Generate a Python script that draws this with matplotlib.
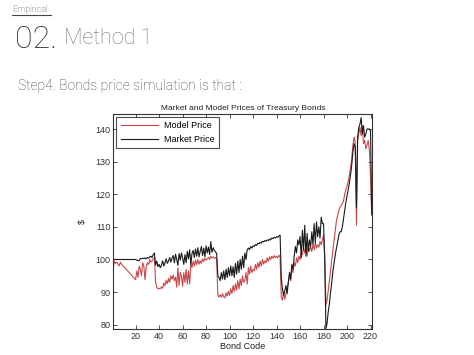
import numpy as np
import matplotlib
matplotlib.use("Agg")
import matplotlib.pyplot as plt


# Market price, bond codes 1..221
market_price = [
    100.0, 100.0, 100.0, 100.0, 100.0, 100.0, 100.0, 100.0, 100.0, 100.0,
    100.0, 100.0, 100.0, 100.0, 100.0, 100.0, 100.0, 100.0, 100.0, 100.0,
    99.8, 99.7, 99.6, 100.3, 100.2, 100.4, 100.3, 100.5, 100.2, 100.6,
    100.4, 100.8, 101.0, 100.6, 101.5, 102.0, 98.3, 99.5, 97.8, 98.5,
    97.5, 98.2, 99.6, 98.0, 99.0, 100.2, 98.8, 99.5, 100.6, 99.2,
    100.4, 101.2, 99.0, 101.6, 100.0, 98.2, 101.8, 99.8, 102.0, 100.5,
    98.5, 101.5, 99.0, 102.5, 100.2, 103.0, 98.5, 101.8, 102.8, 100.6,
    103.2, 101.0, 103.6, 100.8, 102.5, 104.0, 101.2, 103.5, 100.8, 104.2,
    102.0, 103.8, 101.5, 105.5, 102.2, 103.6, 102.8, 102.4, 101.8, 95.0,
    94.5, 93.5, 96.0, 94.0, 96.5, 93.8, 97.0, 94.5, 97.5, 95.0,
    98.0, 95.0, 97.8, 94.5, 98.8, 95.5, 99.5, 96.0, 100.0, 97.0,
    101.0, 97.5, 102.0, 100.0, 103.0, 103.5, 103.0, 104.0, 103.5, 104.2,
    104.0, 104.6, 104.3, 105.0, 104.8, 105.3, 105.0, 105.6, 105.4, 105.8,
    105.6, 106.0, 105.8, 106.3, 106.0, 106.6, 106.4, 106.8, 106.6, 107.0,
    106.8, 107.2, 107.5, 94.5, 91.0, 89.0, 90.5, 92.0, 89.5, 93.0,
    96.0, 94.0, 98.5, 97.0, 101.0, 104.0, 102.0, 106.0, 104.5, 107.0,
    100.5, 109.0, 103.0, 110.5, 101.0, 108.0, 102.5, 106.0, 104.0, 108.5,
    104.5, 111.0, 105.0, 111.5, 107.0, 110.0, 106.5, 113.0, 111.0, 111.0,
    100.0, 78.8, 80.5, 84.0, 86.5, 90.0, 93.0, 96.5, 99.0, 101.5,
    103.5, 105.5, 107.5, 108.5, 108.5, 110.0, 112.5, 115.0, 117.5, 119.5,
    121.5, 123.5, 126.0, 129.0, 133.0, 135.5, 134.5, 116.0, 137.5, 140.5,
    141.5, 143.5, 138.5, 141.0, 137.5, 138.5, 140.0, 140.0, 140.0, 139.5,
    114.0,
]

# Model price, bond codes 1..221
model_price = [
    97.5, 99.5, 98.8, 99.2, 98.5, 98.0, 99.2, 98.6, 98.0, 97.8,
    97.4, 97.0, 96.6, 96.2, 95.8, 95.5, 95.0, 94.6, 94.2, 93.8,
    96.5, 94.5, 98.0, 97.0, 95.0, 99.0, 98.0, 93.8, 97.5, 99.0,
    98.5, 100.0, 99.2, 99.5, 100.2, 100.6, 93.0, 91.5, 91.0, 91.2,
    91.0, 91.6, 91.2, 92.8, 92.0, 93.6, 92.6, 94.2, 93.0, 95.0,
    94.0, 95.2, 93.5, 94.6, 91.5, 97.5, 92.0, 96.0, 95.0, 91.8,
    96.0, 93.0, 97.0, 92.5, 96.5, 92.5, 99.0, 97.5, 99.5, 98.0,
    99.8, 98.4, 100.0, 98.6, 99.6, 98.8, 100.2, 99.4, 100.4, 99.8,
    100.2, 100.6, 100.0, 101.0, 100.4, 100.8, 100.4, 100.6, 100.2, 89.0,
    88.5, 89.2, 88.4, 89.5, 88.6, 88.2, 89.8, 88.8, 90.2, 89.0,
    91.0, 89.6, 92.0, 90.2, 92.5, 90.6, 93.5, 91.0, 94.0, 92.0,
    95.0, 93.0, 93.5, 96.0, 92.5, 97.5, 95.5, 98.0, 96.0, 97.0,
    96.5, 98.5, 97.0, 99.0, 97.6, 99.5, 98.0, 100.0, 98.6, 99.6,
    99.0, 100.5, 99.4, 100.8, 100.0, 101.0, 100.4, 101.2, 100.6, 101.0,
    100.5, 101.3, 100.8, 88.5, 87.5, 90.0, 87.8, 89.5, 91.0, 93.0,
    95.0, 93.5, 97.0, 96.0, 99.0, 98.0, 100.5, 99.0, 101.0, 100.0,
    102.0, 101.5, 103.5, 102.0, 104.0, 101.0, 104.5, 102.5, 104.0, 102.5,
    104.5, 103.0, 105.0, 103.5, 104.5, 103.8, 105.5, 104.5, 106.0, 107.5,
    101.0, 86.0, 87.5, 90.5, 93.5, 96.5, 100.0, 103.0, 106.0, 109.0,
    112.0, 113.5, 115.0, 116.0, 116.5, 117.0, 118.0, 120.0, 121.5, 122.5,
    124.0, 126.0, 128.0, 131.0, 135.0, 137.5, 136.0, 110.5, 136.5, 138.5,
    140.5, 138.0, 141.0, 135.5, 136.5, 134.0, 135.0, 136.5, 133.5, 126.0,
    113.5,
]

x_ticks = [20, 40, 60, 80, 100, 120, 140, 160, 180, 200, 220]
y_ticks = [80, 90, 100, 110, 120, 130, 140]

CHART_FONT = ["Liberation Sans", "DejaVu Sans"]
HEAD_FONT = ["Roboto", "DejaVu Sans"]

fig = plt.figure(figsize=(4.74, 3.55), dpi=100)
fig.patch.set_facecolor("white")

# slide header
fig.text(12 / 474, 1 - 9 / 355, "Empirical", fontsize=6.5, color="#3a3a3a",
         family=HEAD_FONT, fontweight="light", va="center", ha="left")
fig.add_artist(plt.Line2D([12 / 474, 51 / 474], [1 - 15 / 355, 1 - 15 / 355],
                          color="#444444", linewidth=0.8))
fig.text(15 / 474, 1 - 40 / 355, "02.", fontsize=23, color="#2a2a2a",
         family=HEAD_FONT, fontweight="light", va="center", ha="left")
fig.text(64 / 474, 1 - 39 / 355, "Method 1", fontsize=15.5, color="#7a7a7a",
         family=HEAD_FONT, fontweight="light", va="center", ha="left")
fig.text(18 / 474, 1 - 86 / 355, "Step4. Bonds price simulation is that :",
         fontsize=10, color="#3e3e3e", family=HEAD_FONT, fontweight="light",
         va="center", ha="left")

ax = fig.add_axes([113.3 / 474, 1 - 329.3 / 355, 259 / 474, 215.3 / 355])

codes = np.arange(1, len(market_price) + 1)
ax.plot(codes, model_price, color="#c8484a", linewidth=0.8, label="Model Price")
ax.plot(codes, market_price, color="#1a1a1a", linewidth=0.8, label="Market Price")

ax.set_xlim(1, 221.5)
ax.set_ylim(78.6, 144.6)
ax.set_xticks(x_ticks)
ax.set_yticks(y_ticks)
ax.tick_params(direction="in", top=True, right=True, length=3, width=0.6,
               labelsize=6.5, pad=2, colors="#333333")
for lab in ax.get_xticklabels() + ax.get_yticklabels():
    lab.set_family(CHART_FONT)
for sp in ax.spines.values():
    sp.set_linewidth(0.8)
    sp.set_color("#333333")

ax.set_title("Market and Model Prices of Treasury Bonds", fontsize=6.0,
             family=CHART_FONT, color="#222222", pad=3)
ax.set_xlabel("Bond Code", fontsize=6.5, family=CHART_FONT, labelpad=1,
              color="#222222")
ax.set_ylabel("$", fontsize=6.5, family=CHART_FONT, labelpad=6,
              color="#222222")

leg = ax.legend(loc="upper left", frameon=True, fancybox=False,
                borderaxespad=0.3, handlelength=4.2, handletextpad=0.6,
                borderpad=0.5, labelspacing=0.5,
                prop={"family": CHART_FONT, "size": 6.5})
leg.get_frame().set_edgecolor("#222222")
leg.get_frame().set_linewidth(0.8)

fig.savefig("out.png", dpi=100)
